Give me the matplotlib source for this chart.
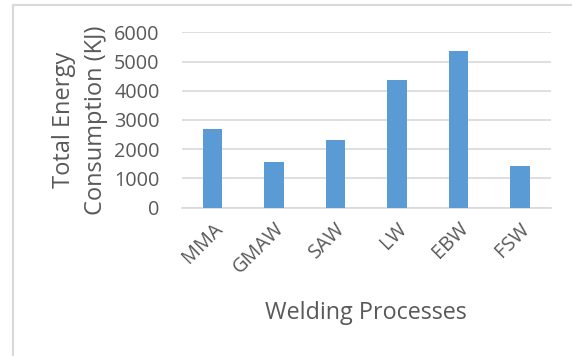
import matplotlib
matplotlib.use("Agg")
import matplotlib.pyplot as plt
from matplotlib.lines import Line2D

processes = ["MMA", "GMAW", "SAW", "LW", "EBW", "FSW"]
energy_kj = [2700, 1550, 2320, 4370, 5370, 1440]
y_ticks = [0, 1000, 2000, 3000, 4000, 5000, 6000]

plt.rcParams['font.family'] = ['Open Sans', 'DejaVu Sans']
grey = "#595959"

fig = plt.figure(figsize=(5.72, 3.56), dpi=100)
ax = fig.add_axes([0.3177, 0.4166, 0.6451, 0.4927])

ax.bar(range(len(processes)), energy_kj, width=0.32, color="#5B9BD5", zorder=3)
ax.set_xlim(-0.5, len(processes) - 0.5)
ax.set_ylim(0, 6000)
ax.set_yticks(y_ticks)
ax.set_yticklabels([str(t) for t in y_ticks], fontsize=14.3, color=grey)
ax.set_xticks(range(len(processes)))
ax.set_xticklabels(processes, rotation=45, ha="right", rotation_mode="anchor",
                   fontsize=14.3, color=grey)
ax.tick_params(axis="both", length=0)
ax.tick_params(axis="y", pad=16)
ax.tick_params(axis="x", pad=8)

ax.grid(axis="y", color="#D9D9D9", linewidth=1.2, zorder=0)
for s in ["top", "right", "left"]:
    ax.spines[s].set_visible(False)
ax.spines["bottom"].set_color("#D9D9D9")
ax.spines["bottom"].set_linewidth(1.2)

ax.set_ylabel("Total Energy\nConsumption (KJ)", fontsize=17, color=grey, labelpad=4,
              linespacing=1.45)
ax.set_xlabel("Welding Processes", fontsize=16.8, color=grey, labelpad=17)

# frame lines of the embedded chart box
fig.add_artist(Line2D([12.5 / 572, 12.5 / 572], [0, 1 - 5 / 356], color="#D9D9D9", lw=1.5))
fig.add_artist(Line2D([12.5 / 572, 1], [1 - 5 / 356, 1 - 5 / 356], color="#D9D9D9", lw=1.5))

fig.savefig("out.png", dpi=100)
